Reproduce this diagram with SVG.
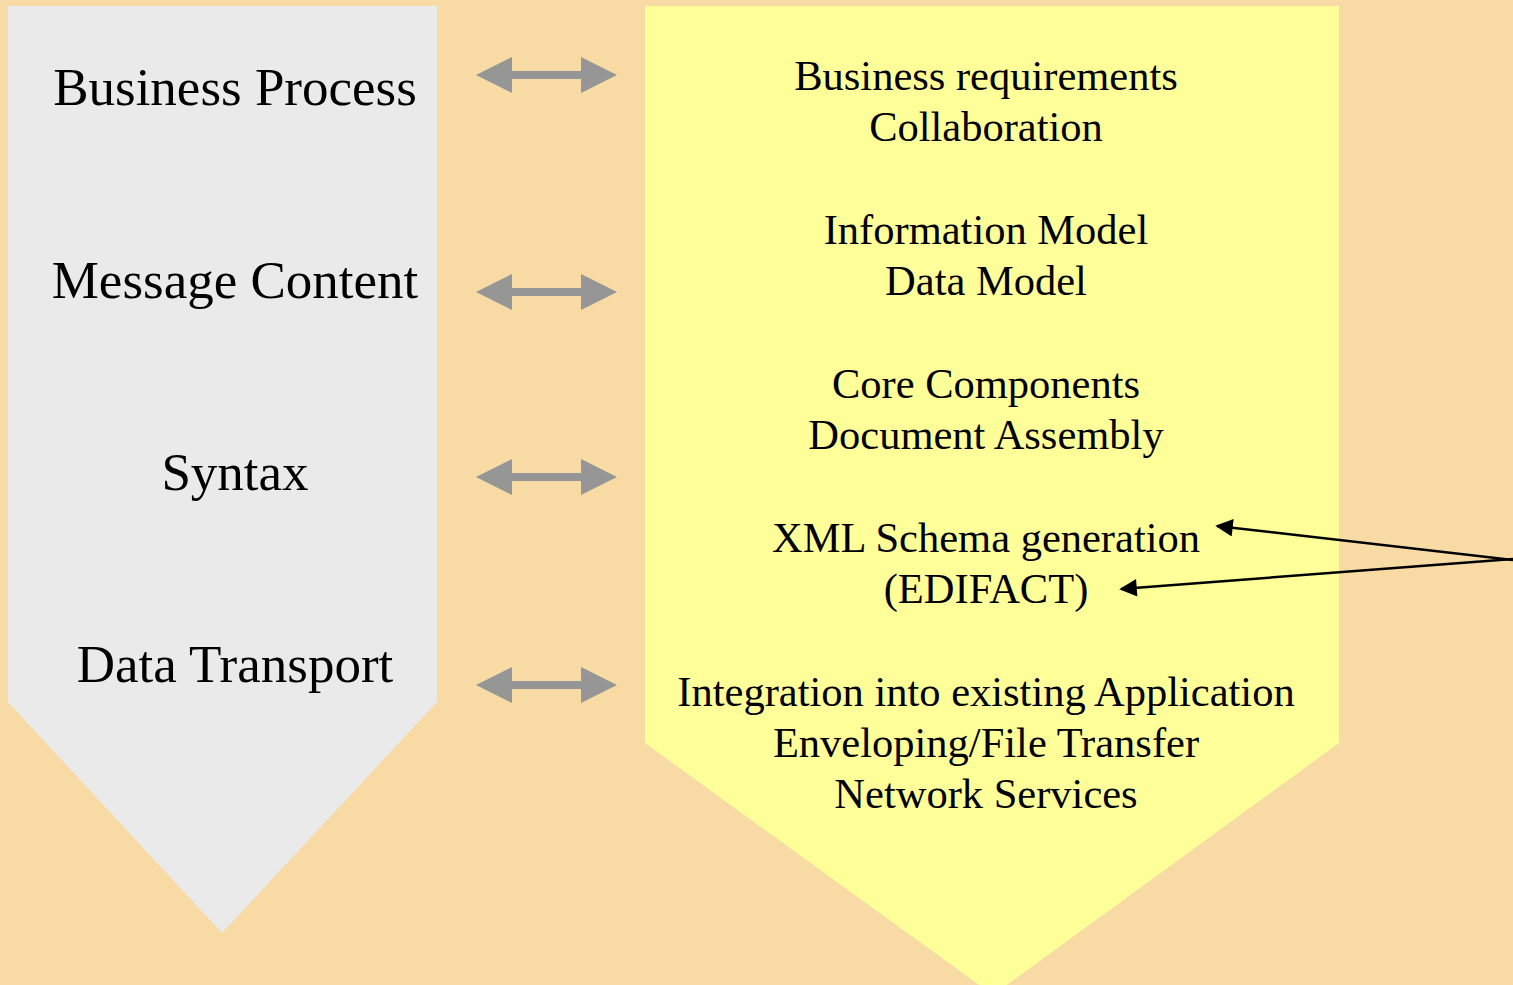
<svg xmlns="http://www.w3.org/2000/svg" width="1513" height="985" viewBox="0 0 1513 985">
<defs>
<style>
.lbl{font-family:"Liberation Serif","Times New Roman",serif;font-size:53px;fill:#000;text-anchor:middle}
.txt{font-family:"Liberation Serif","Times New Roman",serif;font-size:42.5px;fill:#000;text-anchor:middle}
.dbl{fill:#969696}
.ptr{stroke:#000;stroke-width:2.5;fill:none;marker-end:url(#ah)}
</style>
<marker id="ah" viewBox="0 0 10 10" refX="9" refY="5" markerWidth="8" markerHeight="7" orient="auto" markerUnits="strokeWidth">
<path d="M0,0 L10,5 L0,10 Z" fill="#000"/>
</marker>
<path id="dblarrow" d="M0,0 L36,-18 L36,-4 L105,-4 L105,-18 L141,0 L105,18 L105,4 L36,4 L36,18 Z"/>
</defs>
<rect x="0" y="0" width="1513" height="985" fill="#F8DBA4"/>
<g id="layers">
<polygon points="8,6 437,6 437,702 222,933 8,702" fill="#EAEAEA"/>
<text class="lbl" x="235" y="105">Business Process</text>
<text class="lbl" x="235" y="298">Message Content</text>
<text class="lbl" x="235" y="490">Syntax</text>
<text class="lbl" x="235" y="682">Data Transport</text>
</g>
<g id="details">
<polygon points="645,6 1339,6 1339,743 993,995 645,743" fill="#FFFF99"/>
<text class="txt" x="986" y="90">Business requirements</text>
<text class="txt" x="986" y="141">Collaboration</text>
<text class="txt" x="986" y="244">Information Model</text>
<text class="txt" x="986" y="295">Data Model</text>
<text class="txt" x="986" y="398">Core Components</text>
<text class="txt" x="986" y="449">Document Assembly</text>
<text class="txt" x="986" y="552">XML Schema generation</text>
<text class="txt" x="986" y="603">(EDIFACT)</text>
<text class="txt" x="986" y="706">Integration into existing Application</text>
<text class="txt" x="986" y="757">Enveloping/File Transfer</text>
<text class="txt" x="986" y="808">Network Services</text>
</g>
<g id="connectors">
<use href="#dblarrow" class="dbl" x="476" y="75"/>
<use href="#dblarrow" class="dbl" x="476" y="292"/>
<use href="#dblarrow" class="dbl" x="476" y="477"/>
<use href="#dblarrow" class="dbl" x="476" y="685"/>
<line class="ptr" x1="1513" y1="560" x2="1217" y2="526"/>
<line class="ptr" x1="1513" y1="559" x2="1121" y2="589"/>
</g>
</svg>
